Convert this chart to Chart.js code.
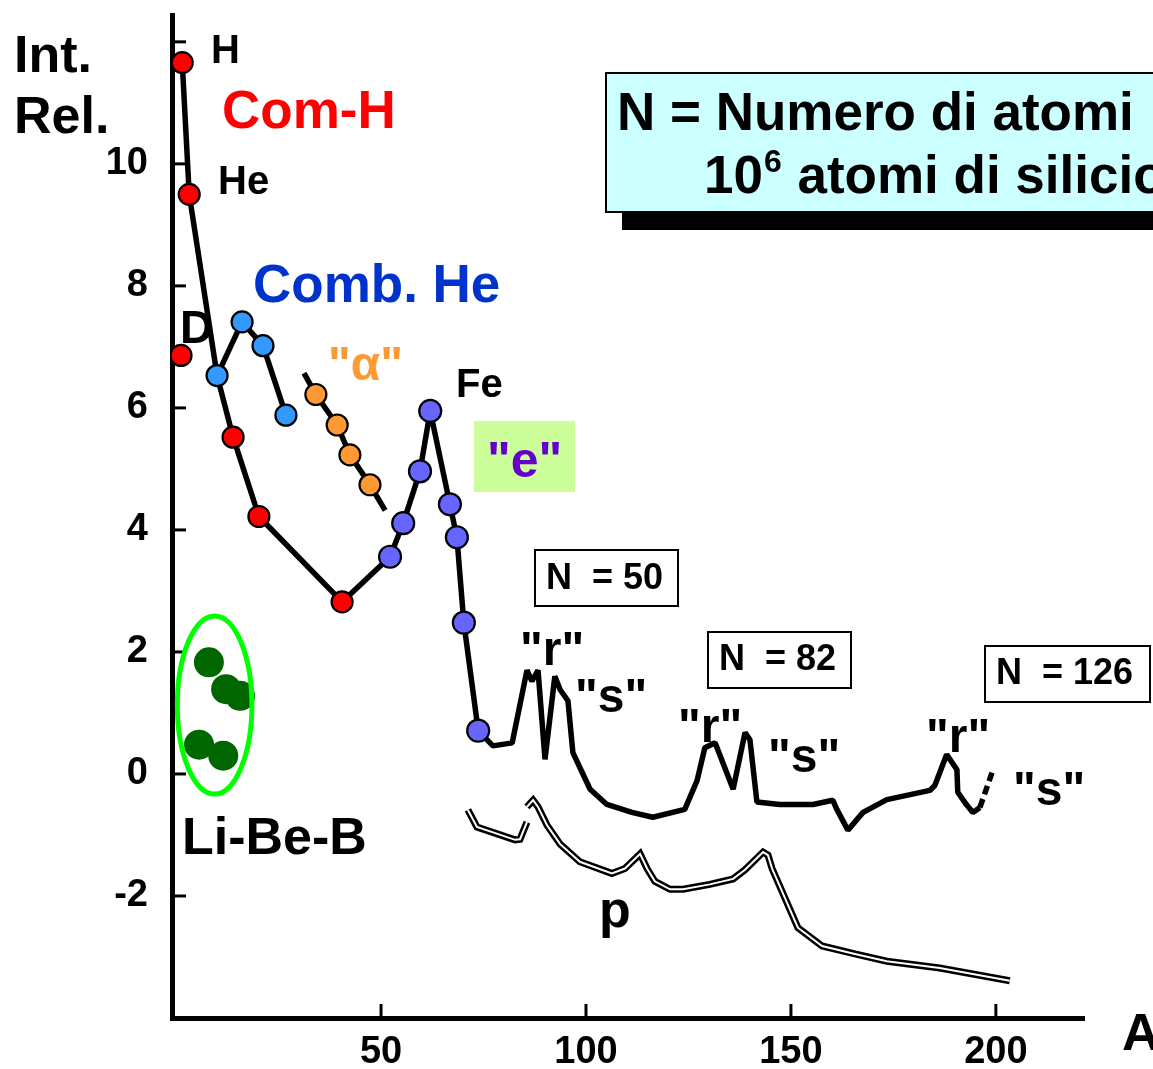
<!DOCTYPE html>
<html><head><meta charset="utf-8">
<script src="https://cdn.jsdelivr.net/npm/chart.js@4"></script>
<style>html,body{margin:0;padding:0;background:#fff;overflow:hidden}canvas{display:block}</style>
</head><body>
<canvas id="c" width="1153" height="1069"></canvas>
<script>
// ---- tick values ----
const xTicks = [50, 100, 150, 200];
const yTickLabels = [-2, 0, 2, 4, 6, 8, 10];
const yTickMarks = [-2, 0, 2, 4, 6, 8, 10, 12];

// ---- series (A, relative intensity) ----
const comHA = [1.5, 3.2, 1.2, 13.9, 20.2, 40.5];          // H, He, D, ...
const comHV = [11.66, 9.50, 6.86, 5.52, 4.22, 2.82];
const combHeA = [10.0, 16.1, 21.2, 26.8];
const combHeV = [6.53, 7.41, 7.02, 5.88];
const alphaA = [34.1, 39.3, 42.4, 47.3];
const alphaV = [6.22, 5.72, 5.23, 4.74];
const alphaLineA = [31.2, 34.1, 39.3, 42.4, 47.3, 51.0];
const alphaLineV = [6.57, 6.22, 5.72, 5.23, 4.74, 4.32];
const eA = [52.2, 55.4, 59.5, 62.0, 66.8, 68.5, 70.2, 73.7];
const eV = [3.56, 4.11, 4.96, 5.95, 4.42, 3.88, 2.48, 0.71];
const rsA = [77.3, 82.0, 85.6, 86.8, 88.3, 90.0, 92.4, 93.7, 95.6, 96.8, 101.0, 105.1, 111.2, 116.3, 124.1, 127.1, 129.0, 131.5, 135.9, 138.8, 140.0, 141.7, 147.3, 155.4, 160.2, 161.2, 163.9, 167.6, 173.4, 183.9, 185.1, 188.0, 190.5, 190.7, 192.9, 194.4, 196.1, 199.3];
const rsV = [0.46, 0.51, 1.70, 1.52, 1.70, 0.24, 1.60, 1.38, 1.20, 0.35, -0.25, -0.50, -0.63, -0.71, -0.58, -0.11, 0.43, 0.51, -0.25, 0.68, 0.56, -0.46, -0.50, -0.50, -0.43, -0.58, -0.92, -0.63, -0.42, -0.27, -0.19, 0.32, 0.07, -0.30, -0.51, -0.63, -0.55, 0.07];
const pA = [71.2, 73.4, 82.7, 83.9, 85.6, 85.6, 85.6, 87.1, 88.3, 90.5, 93.7, 98.5, 106.3, 109.5, 113.2, 114.9, 116.8, 120.5, 123.7, 130.2, 135.9, 138.8, 143.2, 144.4, 145.4, 151.7, 157.6, 165.6, 173.4, 186.3, 203.4];
const pV = [-0.59, -0.87, -1.08, -1.07, -0.79, null, -0.54, -0.43, -0.54, -0.84, -1.15, -1.44, -1.63, -1.55, -1.31, -1.55, -1.76, -1.89, -1.89, -1.81, -1.72, -1.57, -1.28, -1.33, -1.55, -2.52, -2.82, -2.95, -3.07, -3.18, -3.39];
const libebA = [8.0, 12.2, 15.6, 5.6, 11.5];
const libebV = [1.83, 1.39, 1.28, 0.48, 0.30];
const libebRing = [9.4, 1.13, 9.1, 1.46]; // centre A, centre value, half-width (A), half-height (value)

const zip = (a, v) => a.map((x, i) => ({x: x, y: v[i]}));
const comH = zip(comHA, comHV), combHe = zip(combHeA, combHeV), alpha = zip(alphaA, alphaV);
const eSer = zip(eA, eV), rs = zip(rsA, rsV);
const mainLine = [comH[0], comH[1], combHe[0], comH[3], comH[4], comH[5]].concat(eSer, rs);
const FONT = '"Liberation Sans", Arial, sans-serif';

function txt(ctx, s, x, y, size, color) {
  ctx.font = 'bold ' + size + 'px ' + FONT;
  ctx.fillStyle = color; ctx.textAlign = 'left'; ctx.textBaseline = 'alphabetic';
  ctx.fillText(s, x, y);
  return ctx.measureText(s).width;
}
function box(ctx, x, y, w, h, fill, stroke) {
  ctx.fillStyle = fill; ctx.fillRect(x, y, w, h);
  if (stroke) { ctx.strokeStyle = stroke; ctx.lineWidth = 2; ctx.strokeRect(x, y, w, h); }
}

const deco = {
  id: 'deco',
  afterDraw(chart) {
    const ctx = chart.ctx, xs = chart.scales.x, ys = chart.scales.y, ca = chart.chartArea;
    ctx.save();
    // inward tick marks
    ctx.strokeStyle = '#000'; ctx.lineWidth = 3;
    yTickMarks.forEach(v => { const p = ys.getPixelForValue(v); ctx.beginPath(); ctx.moveTo(ca.left, p); ctx.lineTo(ca.left + 14, p); ctx.stroke(); });
    xTicks.forEach(v => { const p = xs.getPixelForValue(v); ctx.beginPath(); ctx.moveTo(p, ca.bottom); ctx.lineTo(p, ca.bottom - 14); ctx.stroke(); });
    // Li-Be-B ellipse
    const cx = xs.getPixelForValue(libebRing[0]), cy = ys.getPixelForValue(libebRing[1]);
    const rx = xs.getPixelForValue(libebRing[0] + libebRing[2]) - cx, ry = cy - ys.getPixelForValue(libebRing[1] + libebRing[3]);
    ctx.strokeStyle = '#00FF00'; ctx.lineWidth = 5;
    ctx.beginPath(); ctx.ellipse(cx, cy, rx, ry, 0, 0, Math.PI * 2); ctx.stroke();
    // axis titles
    txt(ctx, 'Int.', 14, 72, 52, '#000');
    txt(ctx, 'Rel.', 14, 133, 52, '#000');
    txt(ctx, 'A', 1122, 1050, 52, '#000');
    // element / process labels
    txt(ctx, 'H', 211, 63, 40, '#000');
    txt(ctx, 'He', 218, 194, 40, '#000');
    txt(ctx, 'D', 180, 343, 46, '#000');
    txt(ctx, 'Com-H', 222, 128, 53, '#FF0000');
    txt(ctx, 'Comb. He', 253, 302, 53, '#0033CC');
    txt(ctx, '"\u03B1"', 328, 380, 48, '#FF9933');
    txt(ctx, 'Fe', 456, 397, 40, '#000');
    box(ctx, 474, 421, 101, 71, '#CCFF99');
    txt(ctx, '"e"', 487, 477, 50, '#6600CC');
    txt(ctx, 'Li-Be-B', 182, 854, 52, '#000');
    txt(ctx, '"r"', 520, 665, 48, '#000');
    txt(ctx, '"s"', 575, 712, 48, '#000');
    txt(ctx, '"r"', 678, 742, 48, '#000');
    txt(ctx, '"s"', 768, 772, 48, '#000');
    txt(ctx, '"r"', 926, 752, 48, '#000');
    txt(ctx, '"s"', 1013, 805, 48, '#000');
    txt(ctx, 'p', 599, 927, 52, '#000');
    // N boxes
    box(ctx, 535, 550, 143, 56, '#fff', '#000');
    txt(ctx, 'N  = 50', 546, 589, 36, '#000');
    box(ctx, 708, 632, 143, 56, '#fff', '#000');
    txt(ctx, 'N  = 82', 719, 670, 36, '#000');
    box(ctx, 985, 646, 165, 56, '#fff', '#000');
    txt(ctx, 'N  = 126', 996, 684, 36, '#000');
    // top-right info box with shadow
    ctx.fillStyle = '#000'; ctx.fillRect(622, 91, 600, 139);
    box(ctx, 606, 73, 600, 139, '#CCFFFF', '#000');
    txt(ctx, 'N = Numero di atomi', 617, 130, 53, '#000');
    let w = txt(ctx, '10', 704, 193, 53, '#000');
    let w2 = txt(ctx, '6', 704 + w + 1, 172, 32, '#000');
    txt(ctx, ' atomi di silicio', 704 + w + w2 + 2, 193, 53, '#000');
    ctx.restore();
  }
};

const lastSeg = mainLine.length - 2;
new Chart(document.getElementById('c'), {
  type: 'scatter',
  data: {
    datasets: [
      {data: comH, backgroundColor: '#FF0000', borderColor: '#000', pointRadius: 10.5, pointBorderWidth: 2.2, showLine: false, order: 1},
      {data: combHe, backgroundColor: '#3399FF', borderColor: '#000', pointRadius: 10.5, pointBorderWidth: 2.2, showLine: false, order: 1},
      {data: alpha, backgroundColor: '#FF9933', borderColor: '#000', pointRadius: 10.5, pointBorderWidth: 2.2, showLine: false, order: 1},
      {data: eSer, backgroundColor: '#6666FF', borderColor: '#000', pointRadius: 11, pointBorderWidth: 2.2, showLine: false, order: 1},
      {data: zip(libebA, libebV), backgroundColor: '#006600', borderColor: '#006600', pointRadius: 15, pointBorderWidth: 0, showLine: false, order: 1},
      {data: mainLine, showLine: true, borderColor: '#000', borderWidth: 5.5, pointRadius: 0, borderJoinStyle: 'bevel', order: 5,
        segment: {borderDash: c => c.p0DataIndex === lastSeg ? [9, 5] : undefined}},
      {data: zip(combHeA, combHeV), showLine: true, borderColor: '#000', borderWidth: 5.5, pointRadius: 0, order: 5},
      {data: zip(alphaLineA, alphaLineV), showLine: true, borderColor: '#000', borderWidth: 5.5, pointRadius: 0, order: 5},
      {data: zip(pA, pV), showLine: true, borderColor: '#fff', borderWidth: 2, pointRadius: 0, spanGaps: false, order: 3},
      {data: zip(pA, pV), showLine: true, borderColor: '#000', borderWidth: 7, pointRadius: 0, spanGaps: false, order: 4}
    ]
  },
  options: {
    responsive: false, animation: false, devicePixelRatio: 1,
    layout: {padding: {top: 7, right: 69, left: 0, bottom: 0}},
    plugins: {legend: {display: false}, tooltip: {enabled: false}},
    scales: {
      x: {type: 'linear', position: 'bottom', min: -1, max: 221.5,
        afterBuildTicks: s => { s.ticks = xTicks.map(v => ({value: v})); },
        afterFit: s => { s.height = 51; s.paddingLeft = 0; s.paddingRight = 0; },
        grid: {display: false, drawTicks: false},
        border: {display: true, color: '#000', width: 5},
        ticks: {color: '#000', padding: 12, maxRotation: 0, font: {family: FONT, size: 38, weight: 'bold'}}},
      y: {type: 'linear', position: 'left', min: -4, max: 12.44,
        afterBuildTicks: s => { s.ticks = yTickMarks.map(v => ({value: v})); },
        afterFit: s => { s.width = 172; s.paddingTop = 0; s.paddingBottom = 0; },
        grid: {display: false, drawTicks: false},
        border: {display: true, color: '#000', width: 5},
        ticks: {color: '#000', padding: 24, font: {family: FONT, size: 38, weight: 'bold'},
          callback: v => yTickLabels.includes(v) ? String(v) : ''}}
    }
  },
  plugins: [deco]
});
</script>
</body></html>
